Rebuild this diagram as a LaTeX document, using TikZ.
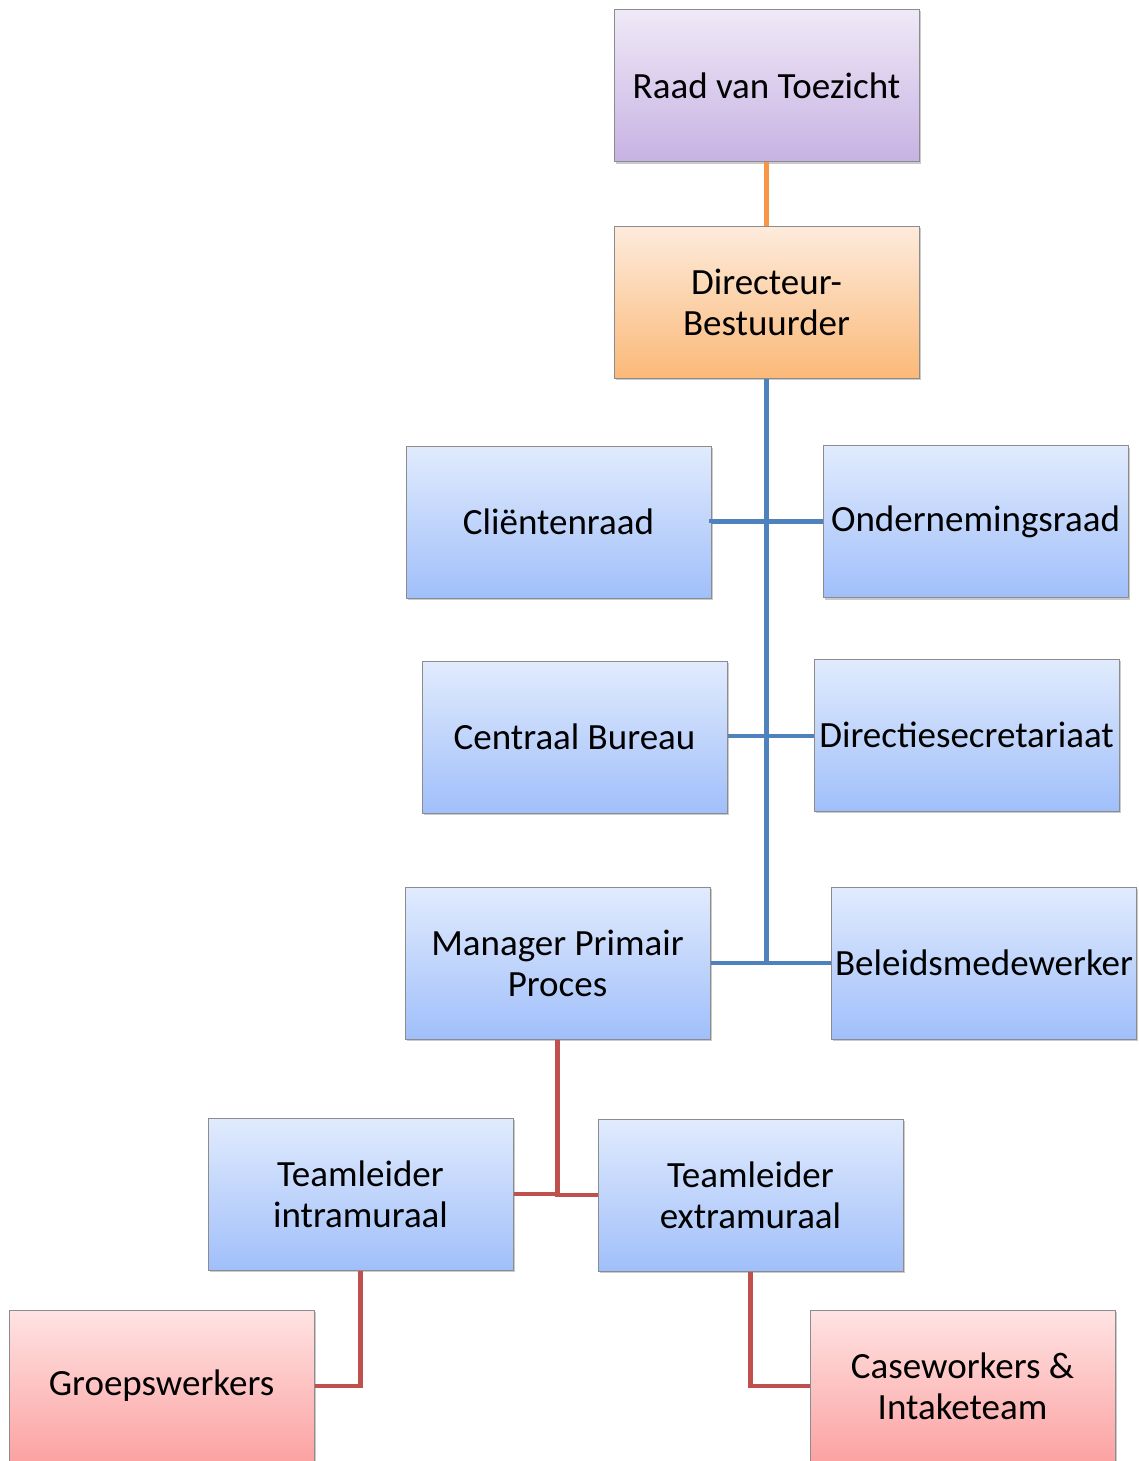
\documentclass[tikz,border=0pt]{standalone}
\usepackage{fontspec}
\setmainfont{Carlito}
\usetikzlibrary{shadows}
\definecolor{lineorange}{HTML}{F79646}
\definecolor{lineblue}{HTML}{4F81BD}
\definecolor{linered}{HTML}{C0504D}
\definecolor{purpletop}{HTML}{EFE9F7}
\definecolor{purplebot}{HTML}{C7B2E3}
\definecolor{orangetop}{HTML}{FDEBDC}
\definecolor{orangebot}{HTML}{FBB978}
\definecolor{bluetop}{HTML}{E1EBFD}
\definecolor{bluebot}{HTML}{A0BFFA}
\definecolor{redtop}{HTML}{FFE3E3}
\definecolor{redbot}{HTML}{FCA2A2}
\definecolor{boxborder}{HTML}{8C8C8C}
\tikzset{
  x=1pt, y=-1pt,
  orgbox/.style={draw=boxborder, line width=1pt, minimum width=305pt, minimum height=152pt,
    inner sep=1pt, align=center, font=\fontsize{37}{41}\selectfont, text=black,
    drop shadow={shadow xshift=1.5pt, shadow yshift=-2pt, opacity=0.35, fill=black!60}},
  purplebox/.style={orgbox, top color=purpletop, bottom color=purplebot},
  orangebox/.style={orgbox, top color=orangetop, bottom color=orangebot},
  bluebox/.style={orgbox, top color=bluetop, bottom color=bluebot},
  redbox/.style={orgbox, top color=redtop, bottom color=redbot},
  conn/.style={line width=4.5pt},
}
\begin{document}
\begin{tikzpicture}
\useasboundingbox (0,0) rectangle (1138,1461);
\clip (0,0) rectangle (1138,1461);
\coordinate (trunkbot) at (766.5,963);
\coordinate (midrow) at (766.5,736);
\coordinate (redjoin) at (557.5,1194);

\node[purplebox] (raad) at (766.5,85.5) {Raad van Toezicht};
\node[orangebox] (dir) at (766.5,302) {Directeur-\\Bestuurder};
\node[bluebox] (client) at (558.5,522) {Cliëntenraad};
\node[bluebox] (onder) at (975.5,521.5) {Ondernemingsraad};
\node[bluebox] (centraal) at (574.5,737) {Centraal Bureau};
\node[bluebox] (dirsec) at (966.5,735) {Directiesecretariaat};
\node[bluebox] (manager) at (557.5,963) {Manager Primair\\Proces};
\node[bluebox] (beleid) at (984,963) {Beleidsmedewerker};
\node[bluebox] (intra) at (360.5,1194) {Teamleider\\intramuraal};
\node[bluebox] (extra) at (750.5,1195) {Teamleider\\extramuraal};
\node[redbox] (groep) at (161.5,1386) {Groepswerkers};
\node[redbox] (case) at (962.5,1386) {Caseworkers \&\\Intaketeam};

\draw[conn, lineorange] (raad.south) -- (dir.north);
\draw[conn, lineblue] (dir.south) -- (trunkbot);
\draw[conn, lineblue] (client.east) -- (onder.west -| client.east) -- (onder.west);
\draw[conn, lineblue] (midrow -| centraal.east) -- (midrow -| dirsec.west);
\draw[conn, lineblue] (manager.east) -- (beleid.west);
\draw[conn, linered] (manager.south) -- (redjoin);
\draw[conn, linered] (intra.east) -- (intra.east -| redjoin) -- (redjoin);
\draw[conn, linered] (redjoin) |- (extra.west);
\draw[conn, linered] (intra.south) |- (groep.east);
\draw[conn, linered] (extra.south) |- (case.west);
\end{tikzpicture}
\end{document}
